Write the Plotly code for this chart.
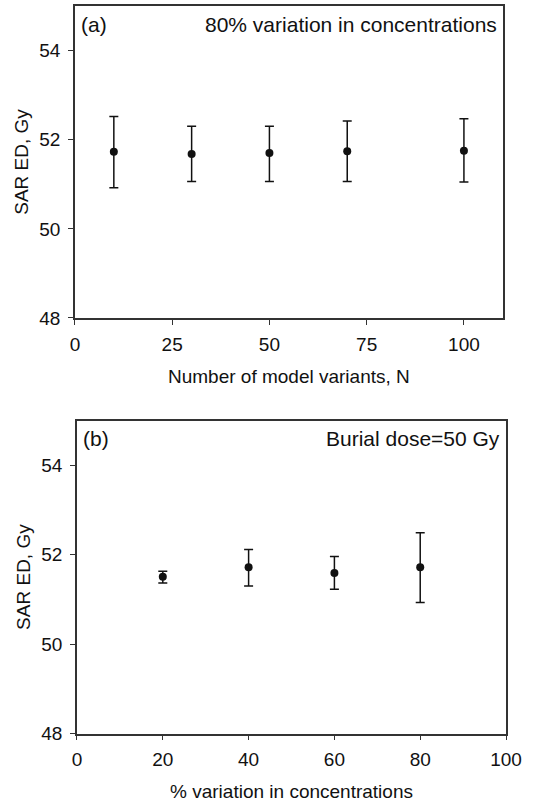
import plotly.graph_objects as go

# Panel (a)
n_variants = [10, 30, 50, 70, 100]
ed_a = [51.73, 51.68, 51.70, 51.74, 51.75]
ed_a_hi = [52.52, 52.30, 52.30, 52.42, 52.47]
ed_a_lo = [50.92, 51.06, 51.06, 51.06, 51.05]

# Panel (b)
pct_var = [20, 40, 60, 80]
ed_b = [51.51, 51.72, 51.59, 51.72]
ed_b_hi = [51.63, 52.12, 51.96, 52.49]
ed_b_lo = [51.37, 51.30, 51.23, 50.93]

y_ticks = [48, 50, 52, 54]
xa_ticks = [0, 25, 50, 75, 100]
xb_ticks = [0, 20, 40, 60, 80, 100]

FONT = "Liberation Sans, Arial, sans-serif"
INK = "#111111"

fig = go.Figure()

def add_series(x, y, hi, lo, xa, ya):
    fig.add_trace(go.Scatter(
        x=x, y=y, mode="markers", xaxis=xa, yaxis=ya,
        marker=dict(color=INK, size=8, symbol="circle"),
        error_y=dict(type="data", symmetric=False,
                     array=[h - v for h, v in zip(hi, y)],
                     arrayminus=[v - l for l, v in zip(lo, y)],
                     color=INK, thickness=1.5, width=4.5),
        showlegend=False, hoverinfo="skip"))

add_series(n_variants, ed_a, ed_a_hi, ed_a_lo, "x", "y")
add_series(pct_var, ed_b, ed_b_hi, ed_b_lo, "x2", "y2")

axis_common = dict(showgrid=False, zeroline=False, showline=True, linecolor="#333333",
                   linewidth=1.5, mirror=True, ticks="outside", ticklen=5,
                   tickcolor="#333333", tickwidth=1, automargin=False,
                   tickfont=dict(family=FONT, size=19, color=INK))

title_font = dict(family=FONT, size=19, color=INK)
ann_font = dict(family=FONT, size=21, color=INK)

fig.update_layout(
    width=543, height=805, autosize=False,
    margin=dict(l=0, r=0, t=0, b=0, autoexpand=False),
    paper_bgcolor="white", plot_bgcolor="white",
    font=dict(family=FONT, color=INK),
    xaxis=dict(domain=[0.138, 0.926], anchor="y", range=[0, 110],
               tickvals=xa_ticks, ticklabelstandoff=3,
               title=dict(text="Number of model variants, N", font=title_font, standoff=16),
               **axis_common),
    yaxis=dict(domain=[0.605, 0.9925], anchor="x", range=[48, 55],
               tickvals=y_ticks, ticklabelstandoff=4,
               title=dict(text="SAR ED, Gy", font=title_font, standoff=6),
               **axis_common),
    xaxis2=dict(domain=[0.1418, 0.9319], anchor="y2", range=[0, 100],
                tickvals=xb_ticks, ticklabelstandoff=3,
                title=dict(text="% variation in concentrations", font=title_font, standoff=16),
                **axis_common),
    yaxis2=dict(domain=[0.0888, 0.4774], anchor="x2", range=[48, 55],
                tickvals=y_ticks, ticklabelstandoff=4,
                title=dict(text="SAR ED, Gy", font=title_font, standoff=6),
                **axis_common),
    annotations=[
        dict(text="(a)", xref="x domain", yref="y domain", x=0.01, y=0.985,
             xanchor="left", yanchor="top", showarrow=False, font=ann_font),
        dict(text="80% variation in concentrations", xref="x domain", yref="y domain",
             x=0.99, y=0.985, xanchor="right", yanchor="top", showarrow=False,
             font=ann_font),
        dict(text="(b)", xref="x2 domain", yref="y2 domain", x=0.01, y=0.985,
             xanchor="left", yanchor="top", showarrow=False, font=ann_font),
        dict(text="Burial dose=50 Gy", xref="x2 domain", yref="y2 domain",
             x=0.99, y=0.985, xanchor="right", yanchor="top", showarrow=False,
             font=ann_font),
    ],
)

fig.write_html("out.html")
